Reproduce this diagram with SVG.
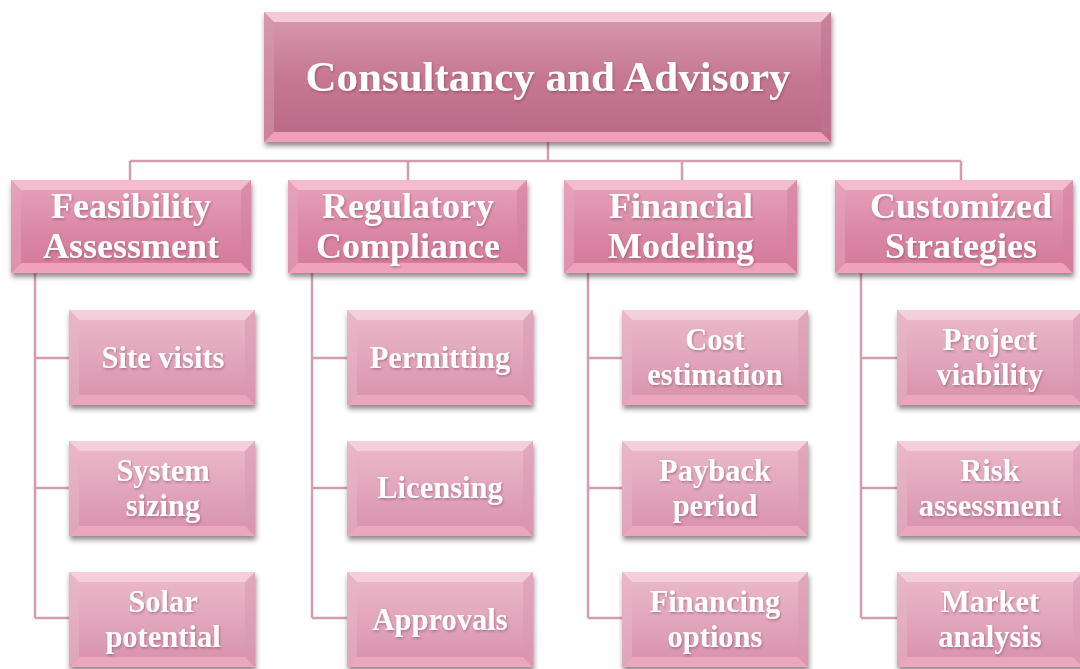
<svg xmlns="http://www.w3.org/2000/svg" xmlns:xlink="http://www.w3.org/1999/xlink" width="1080" height="669" viewBox="0 0 1080 669">
<defs>
<linearGradient id="gTop" x1="0" y1="0" x2="0" y2="1">
<stop offset="0" stop-color="#d89bb0"/><stop offset="0.5" stop-color="#c67892"/><stop offset="1" stop-color="#b96885"/>
</linearGradient>
<linearGradient id="gL1" x1="0" y1="0" x2="0" y2="1">
<stop offset="0" stop-color="#e7a3bb"/><stop offset="0.55" stop-color="#da88a5"/><stop offset="1" stop-color="#d27898"/>
</linearGradient>
<linearGradient id="gCh" x1="0" y1="0" x2="0" y2="1">
<stop offset="0" stop-color="#ecbacb"/><stop offset="0.55" stop-color="#e1a4ba"/><stop offset="1" stop-color="#d691aa"/>
</linearGradient>
<filter id="sh" x="-5%" y="-10%" width="112%" height="130%">
<feDropShadow dx="1" dy="4" stdDeviation="2.5" flood-color="#3a2a30" flood-opacity="0.55"/>
</filter>
<filter id="tsh" x="-5%" y="-10%" width="110%" height="130%">
<feDropShadow dx="1" dy="1.5" stdDeviation="1" flood-color="#6a2a45" flood-opacity="0.4"/>
</filter>
<g id="child">
<rect x="0" y="0" width="186" height="95" fill="url(#gCh)"/>
<polygon points="0,0 186,0 176,10 10,10" fill="#f5d3df" opacity="0.85"/>
<polygon points="0,95 186,95 176,85 10,85" fill="#eda9c0" opacity="0.9"/>
<polygon points="0,0 10,10 10,85 0,95" fill="#e8b4c6" opacity="0.55"/>
<polygon points="186,0 176,10 176,85 186,95" fill="#d899b0" opacity="0.55"/>
</g>
</defs>
<style>
.conn{fill:none;stroke:#d39db1;stroke-width:2.5}
.t{font-family:"Liberation Serif","Times New Roman",serif;font-weight:bold;fill:#ffffff;text-anchor:middle;filter:url(#tsh)}
.t0{font-size:43px}
.t1{font-size:36px}
.t2{font-size:30.5px}
.box{filter:url(#sh)}
</style>
<rect width="1080" height="669" fill="#ffffff"/>

<g id="connectors" class="conn">
<path d="M548,142 V161 M130,161 H961 M130,161 V180 M408,161 V180 M682,161 V180 M961,161 V180"/>
<path d="M35,273 V618 M35,358 H69 M35,488 H69 M35,618 H69"/>
<path d="M312,273 V618 M312,358 H347 M312,488 H347 M312,618 H347"/>
<path d="M588,273 V618 M588,358 H622 M588,488 H622 M588,618 H622"/>
<path d="M861,273 V618 M861,358 H897 M861,488 H897 M861,618 H897"/>
</g>

<g id="root" class="box">
<rect x="264" y="12" width="567" height="130" fill="url(#gTop)"/>
<polygon points="264,12 831,12 821,22 274,22" fill="#f7cfdd" opacity="0.9"/>
<polygon points="264,142 831,142 821,132 274,132" fill="#ef9fb9"/>
<polygon points="264,12 274,22 274,132 264,142" fill="#d697ac" opacity="0.6"/>
<polygon points="831,12 821,22 821,132 831,142" fill="#c07290" opacity="0.6"/>
<text class="t t0" x="548" y="91">Consultancy and Advisory</text>
</g>

<g id="feasibility" class="box">
<rect x="11" y="180" width="240" height="93" fill="url(#gL1)"/>
<polygon points="11,180 251,180 241,190 21,190" fill="#f5c0d2" opacity="0.9"/>
<polygon points="11,273 251,273 241,263 21,263" fill="#f0a2bc"/>
<polygon points="11,180 21,190 21,263 11,273" fill="#e6a2ba" opacity="0.6"/>
<polygon points="251,180 241,190 241,263 251,273" fill="#d4809e" opacity="0.6"/>
<text class="t t1" x="131" y="218">Feasibility</text>
<text class="t t1" x="131" y="258">Assessment</text>
</g>

<g id="regulatory" class="box">
<rect x="288" y="180" width="239" height="93" fill="url(#gL1)"/>
<polygon points="288,180 527,180 517,190 298,190" fill="#f5c0d2" opacity="0.9"/>
<polygon points="288,273 527,273 517,263 298,263" fill="#f0a2bc"/>
<polygon points="288,180 298,190 298,263 288,273" fill="#e6a2ba" opacity="0.6"/>
<polygon points="527,180 517,190 517,263 527,273" fill="#d4809e" opacity="0.6"/>
<text class="t t1" x="408" y="218">Regulatory</text>
<text class="t t1" x="408" y="258">Compliance</text>
</g>

<g id="financial" class="box">
<rect x="564" y="180" width="233" height="93" fill="url(#gL1)"/>
<polygon points="564,180 797,180 787,190 574,190" fill="#f5c0d2" opacity="0.9"/>
<polygon points="564,273 797,273 787,263 574,263" fill="#f0a2bc"/>
<polygon points="564,180 574,190 574,263 564,273" fill="#e6a2ba" opacity="0.6"/>
<polygon points="797,180 787,190 787,263 797,273" fill="#d4809e" opacity="0.6"/>
<text class="t t1" x="681" y="218">Financial</text>
<text class="t t1" x="681" y="258">Modeling</text>
</g>

<g id="customized" class="box">
<rect x="835" y="180" width="238" height="93" fill="url(#gL1)"/>
<polygon points="835,180 1073,180 1063,190 845,190" fill="#f5c0d2" opacity="0.9"/>
<polygon points="835,273 1073,273 1063,263 845,263" fill="#f0a2bc"/>
<polygon points="835,180 845,190 845,263 835,273" fill="#e6a2ba" opacity="0.6"/>
<polygon points="1073,180 1063,190 1063,263 1073,273" fill="#d4809e" opacity="0.6"/>
<text class="t t1" x="961" y="218">Customized</text>
<text class="t t1" x="961" y="258">Strategies</text>
</g>

<g id="site-visits" class="box"><use xlink:href="#child" x="69" y="310"/><text class="t t2" x="163" y="368">Site visits</text></g>
<g id="system-sizing" class="box"><use xlink:href="#child" x="69" y="441"/><text class="t t2" x="163" y="481">System</text><text class="t t2" x="163" y="516">sizing</text></g>
<g id="solar-potential" class="box"><use xlink:href="#child" x="69" y="572"/><text class="t t2" x="163" y="612">Solar</text><text class="t t2" x="163" y="647">potential</text></g>

<g id="permitting" class="box"><use xlink:href="#child" x="347" y="310"/><text class="t t2" x="440" y="368">Permitting</text></g>
<g id="licensing" class="box"><use xlink:href="#child" x="347" y="441"/><text class="t t2" x="440" y="498">Licensing</text></g>
<g id="approvals" class="box"><use xlink:href="#child" x="347" y="572"/><text class="t t2" x="440" y="630">Approvals</text></g>

<g id="cost-estimation" class="box"><use xlink:href="#child" x="622" y="310"/><text class="t t2" x="715" y="350">Cost</text><text class="t t2" x="715" y="385">estimation</text></g>
<g id="payback-period" class="box"><use xlink:href="#child" x="622" y="441"/><text class="t t2" x="715" y="481">Payback</text><text class="t t2" x="715" y="516">period</text></g>
<g id="financing-options" class="box"><use xlink:href="#child" x="622" y="572"/><text class="t t2" x="715" y="612">Financing</text><text class="t t2" x="715" y="647">options</text></g>

<g id="project-viability" class="box"><use xlink:href="#child" x="897" y="310"/><text class="t t2" x="990" y="350">Project</text><text class="t t2" x="990" y="385">viability</text></g>
<g id="risk-assessment" class="box"><use xlink:href="#child" x="897" y="441"/><text class="t t2" x="990" y="481">Risk</text><text class="t t2" x="990" y="516">assessment</text></g>
<g id="market-analysis" class="box"><use xlink:href="#child" x="897" y="572"/><text class="t t2" x="990" y="612">Market</text><text class="t t2" x="990" y="647">analysis</text></g>
</svg>
